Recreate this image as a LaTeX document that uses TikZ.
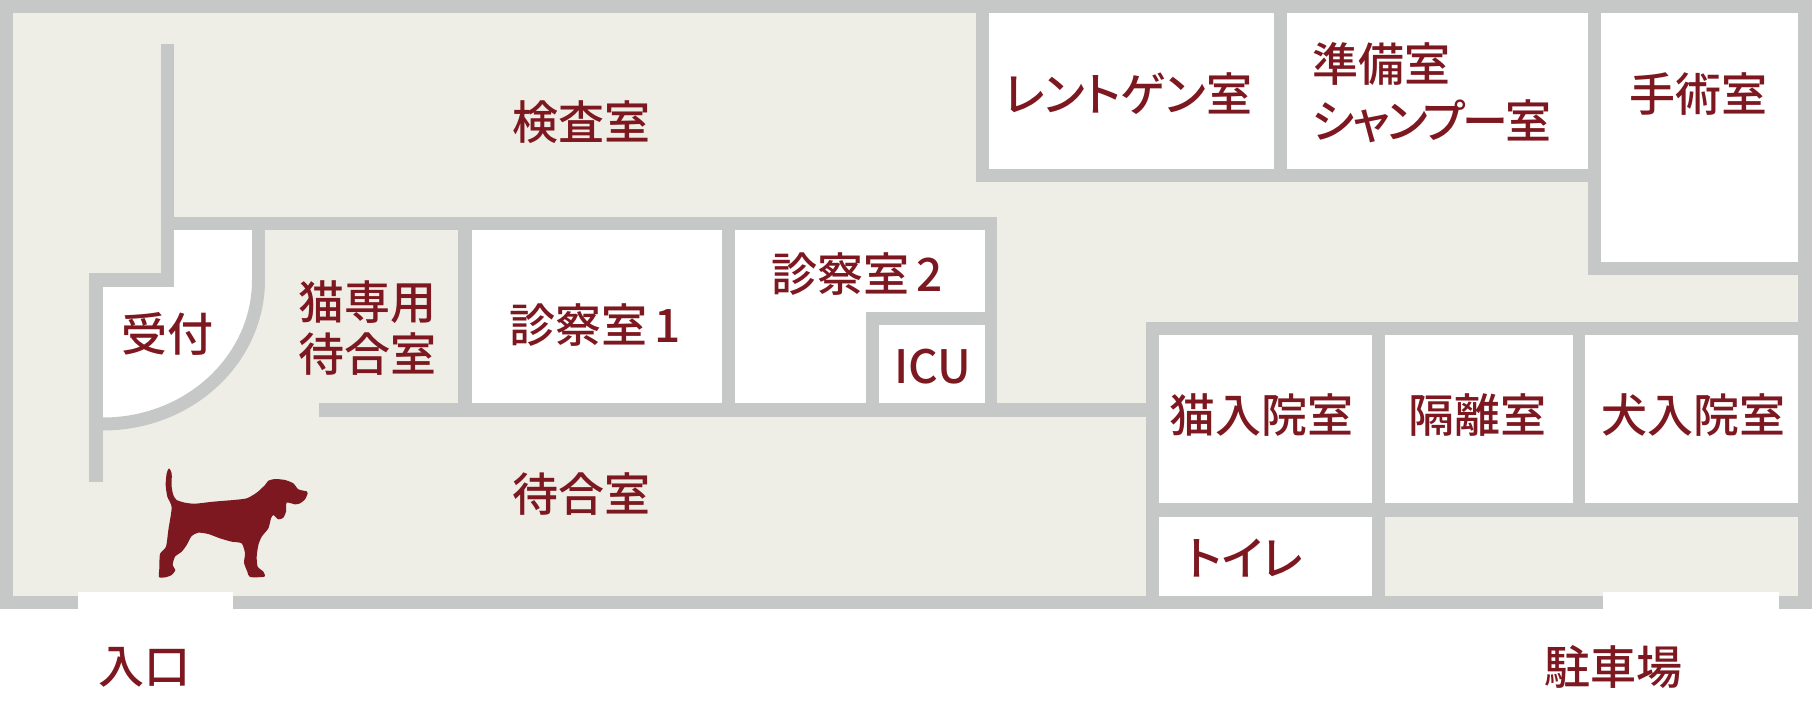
\documentclass[tikz,border=0pt]{standalone}
\usepackage{xcolor}
\usepackage{fontspec}
\setmainfont{Noto Sans CJK JP Medium}[RawFeature={+palt}]
\definecolor{wallgray}{HTML}{C6C8C7}
\definecolor{floorbeige}{HTML}{EFEEE6}
\definecolor{labelred}{HTML}{7D1820}
\tikzset{
  wall/.style={fill=wallgray},
  room/.style={fill=white},
  roomlabel/.style={text=labelred,inner sep=0pt,font=\fontsize{23}{26}\selectfont,align=center},
}

\begin{document}
\begin{tikzpicture}[x=0.5pt,y=-0.5pt]
  \useasboundingbox (0,0) rectangle (1812,702);
  \path[fill=white] (0,0) rectangle (1812,702);
  \path[fill=floorbeige] (0,0) rectangle (1812,609);

  \path[room] (989,13) rectangle (1274,169);
  \path[room] (1287,13) rectangle (1588,169);
  \path[room] (1601,13) rectangle (1798,262);
  \path[room] (472,230) rectangle (722,403);
  \path[room] (735,230) rectangle (985,403);
  \path[room] (1159,335) rectangle (1372,503);
  \path[room] (1385,335) rectangle (1573,503);
  \path[room] (1585,335) rectangle (1798,503);
  \path[room] (1159,517) rectangle (1372,596);
  \path[room] (174,230)--(258,230)--(258,280) .. controls (258,359) and (189,424) .. (103,424)--(103,287)--(174,287)--cycle;

  \path[wall] (0,0) rectangle (1812,13);
  \path[wall] (0,0) rectangle (13,609);
  \path[wall] (0,596) rectangle (1812,609);
  \path[wall] (1798,0) rectangle (1812,609);

  \path[wall] (161,44) rectangle (174,287);
  \path[wall] (161,217) rectangle (997,230);
  \path[wall] (252,230) rectangle (265,281);
  \path[wall] (89,273) rectangle (174,287);
  \path[wall] (89,273) rectangle (103,482);
  \draw[wallgray,line width=6.5pt] (258.5,280) .. controls (258.5,359.5) and (189,424) .. (103,424);

  \path[wall] (319,403) rectangle (1146,417);
  \path[wall] (458,230) rectangle (472,403);
  \path[wall] (722,230) rectangle (735,403);
  \path[wall] (985,217) rectangle (997,417);
  \path[wall] (866,312) rectangle (997,325);
  \path[wall] (866,312) rectangle (879,403);

  \path[wall] (976,0) rectangle (989,182);
  \path[wall] (976,169) rectangle (1601,182);
  \path[wall] (1274,13) rectangle (1287,169);
  \path[wall] (1588,13) rectangle (1601,275);
  \path[wall] (1588,262) rectangle (1812,275);

  \path[wall] (1146,322) rectangle (1812,335);
  \path[wall] (1146,322) rectangle (1159,609);
  \path[wall] (1372,335) rectangle (1385,609);
  \path[wall] (1573,335) rectangle (1585,503);
  \path[wall] (1146,503) rectangle (1812,517);

  \path[room] (78,592) rectangle (233,609);
  \path[room] (1603,592) rectangle (1779,609);

  \begin{scope}[shift={(140,450)},x=0.1667pt,y=-0.1667pt]
    \path[fill=labelred] plot[smooth cycle,tension=0.4] coordinates {
      (87,55) (95,70) (95,110) (100,135) (110,150) (135,158) (165,161) (220,155)
      (280,150) (320,145) (350,128) (375,105) (385,92) (405,87) (435,90) (460,100)
      (475,118) (500,124) (503,130) (495,148) (480,160) (465,163) (440,158) (438,185)
      (430,203) (415,208) (400,195) (393,205) (385,235) (365,260) (355,285) (350,320)
      (353,350) (370,365) (373,380) (330,381) (322,365) (312,338) (315,310) (305,280)
      (275,275) (240,265) (205,252) (175,248) (155,258) (140,285) (125,305) (105,320)
      (98,345) (106,360) (95,375) (75,382) (57,381) (58,355) (60,312) (78,290)
      (85,240) (95,172) (82,140) (77,105) (80,70)};
  \end{scope}

  \node[roomlabel] (kensa) at (581,122) {検査室};
  \node[roomlabel] (xray) at (1128,94) {レントゲン室};
  \node[roomlabel,font=\fontsize{23}{28.5}\selectfont,align=left] (shampoo) at (1432,93) {準備室\\{\addfontfeature{LetterSpace=-6}シャンプー室}};
  \node[roomlabel] (shujutsu) at (1698,94) {手術室};
  \node[roomlabel] (uketsuke) at (167,334) {受付};
  \node[roomlabel] (catwait) at (367,328) {猫専用\\待合室};
  \node[roomlabel] (shinsatsua) at (595,325) {診察室\,1};
  \node[roomlabel] (shinsatsub) at (857,274) {診察室\,2};
  \node[roomlabel] (icu) at (933,367) {ICU};
  \node[roomlabel] (machiai) at (581,494) {待合室};
  \node[roomlabel] (catward) at (1261,415) {猫入院室};
  \node[roomlabel] (kakuri) at (1477,415) {隔離室};
  \node[roomlabel] (dogward) at (1693,415) {犬入院室};
  \node[roomlabel] (toilet) at (1245,558) {トイレ};
  \node[roomlabel] (iriguchi) at (144,667) {入口};
  \node[roomlabel] (parking) at (1613,667) {駐車場};
\end{tikzpicture}
\end{document}
